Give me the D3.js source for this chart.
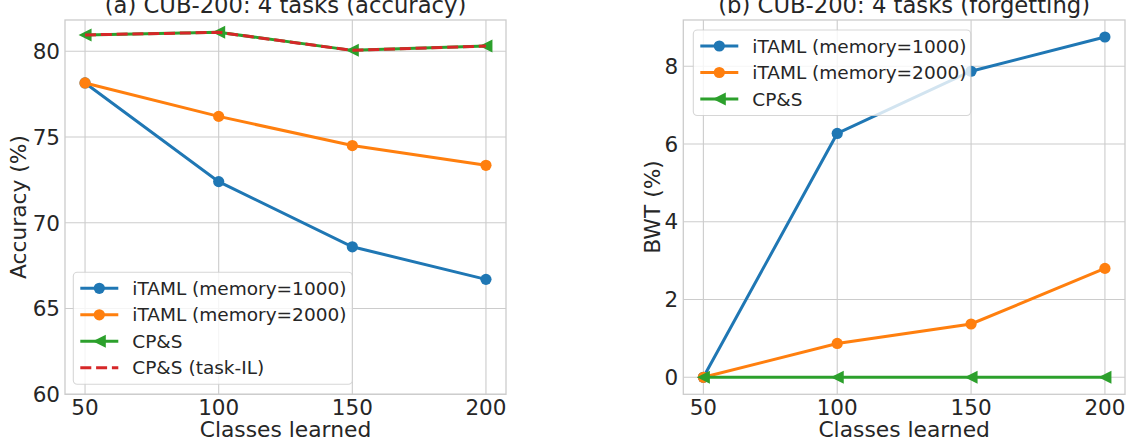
<!DOCTYPE html>
<html>
<head>
<meta charset="utf-8">
<script src="https://cdn.jsdelivr.net/npm/d3@7"></script>
<style>
  body { margin: 0; background: #fff; }
  text { font-family: "DejaVu Sans", sans-serif; fill: #262626; }
</style>
</head>
<body>
<script>
var classes = [50, 100, 150, 200];

// (a) accuracy
var accMem1000 = [78.15, 72.4, 68.6, 66.7];
var accMem2000 = [78.15, 76.2, 74.5, 73.35];
var accCPS = [80.95, 81.1, 80.05, 80.3];
var accCPSTask = [80.95, 81.1, 80.05, 80.3];
var accTicks = [60, 65, 70, 75, 80];

// (b) forgetting
var bwtMem1000 = [0, 6.27, 7.87, 8.75];
var bwtMem2000 = [0, 0.87, 1.37, 2.8];
var bwtCPS = [0, 0, 0, 0];
var bwtTicks = [0, 2, 4, 6, 8];

var xTicks = [50, 100, 150, 200];

var blue = "#1f77b4", orange = "#ff7f0e", green = "#2ca02c", red = "#d62728";
var gridCol = "#cccccc";

var width = 1133, height = 448;
var svg = d3.select("body").append("svg")
  .attr("width", width)
  .attr("height", height);

function margins(vals, lo) {
  var mn = d3.min(vals), mx = d3.max(vals);
  var pad = (mx - mn) * 0.05;
  return [lo !== undefined ? lo : mn - pad, mx + pad];
}

function drawPanel(opt) {
  var x = d3.scaleLinear().domain([42.5, 207.5]).range([opt.left, opt.right]);
  var y = d3.scaleLinear().domain(opt.yDomain).range([394.3, 20]);
  var g = svg.append("g");

  // grid
  g.selectAll("line.gx").data(xTicks).enter().append("line")
    .attr("x1", function(d){ return x(d); }).attr("x2", function(d){ return x(d); })
    .attr("y1", 20).attr("y2", 394.3)
    .attr("stroke", gridCol).attr("stroke-width", 1.1);
  g.selectAll("line.gy").data(opt.yTicks).enter().append("line")
    .attr("y1", function(d){ return y(d); }).attr("y2", function(d){ return y(d); })
    .attr("x1", opt.left).attr("x2", opt.right)
    .attr("stroke", gridCol).attr("stroke-width", 1.1);

  // spines
  g.append("rect")
    .attr("x", opt.left).attr("y", 20)
    .attr("width", opt.right - opt.left).attr("height", 374.3)
    .attr("fill", "none").attr("stroke", gridCol).attr("stroke-width", 1.3);

  // tick labels
  g.selectAll("text.tx").data(xTicks).enter().append("text")
    .attr("x", function(d){ return x(d); }).attr("y", 415)
    .attr("text-anchor", "middle").style("font-size", "21.5px")
    .text(function(d){ return d; });
  g.selectAll("text.ty").data(opt.yTicks).enter().append("text")
    .attr("x", opt.left - 5).attr("y", function(d){ return y(d); })
    .attr("dy", "0.36em")
    .attr("text-anchor", "end").style("font-size", "21.5px")
    .text(function(d){ return d; });

  // axis labels and title
  g.append("text")
    .attr("x", (opt.left + opt.right) / 2).attr("y", 437)
    .attr("text-anchor", "middle").style("font-size", "21.8px")
    .text("Classes learned");
  g.append("text")
    .attr("transform", "translate(" + opt.yLabelX + "," + 207 + ") rotate(-90)")
    .attr("text-anchor", "middle").attr("dy", "0.36em").style("font-size", "21.8px")
    .text(opt.yLabel);
  g.append("text")
    .attr("x", (opt.left + opt.right) / 2).attr("y", 13)
    .attr("text-anchor", "middle").style("font-size", "22.7px")
    .text(opt.title);

  // series
  var line = d3.line()
    .x(function(d, i){ return x(classes[i]); })
    .y(function(d){ return y(d); });

  opt.series.forEach(function(s) {
    g.append("path")
      .attr("d", line(s.values))
      .attr("fill", "none")
      .attr("stroke", s.color)
      .attr("stroke-width", 3)
      .attr("stroke-dasharray", s.dash ? "11,4.8" : null);
    if (s.marker === "o") {
      g.selectAll(null).data(s.values).enter().append("circle")
        .attr("cx", function(d, i){ return x(classes[i]); })
        .attr("cy", function(d){ return y(d); })
        .attr("r", 5.6).attr("fill", s.color);
    } else if (s.marker === "<") {
      g.selectAll(null).data(s.values).enter().append("path")
        .attr("d", function(d, i){
          var cx = x(classes[i]), cy = y(d), r = 6.5;
          return "M" + (cx - r) + "," + cy + "L" + (cx + r) + "," + (cy - r) + "L" + (cx + r) + "," + (cy + r) + "Z";
        })
        .attr("fill", s.color);
    }
  });

  // legend
  var lg = opt.legend;
  var leg = g.append("g");
  leg.append("rect")
    .attr("x", lg.x).attr("y", lg.y)
    .attr("width", lg.w).attr("height", 26.5 * opt.series.length + 6)
    .attr("rx", 4)
    .attr("fill", "#fff").attr("fill-opacity", 0.8)
    .attr("stroke", gridCol).attr("stroke-opacity", 0.8).attr("stroke-width", 1.1);
  opt.series.forEach(function(s, i) {
    var cy = lg.y + 16 + i * 26.5;
    leg.append("line")
      .attr("x1", lg.x + 7).attr("x2", lg.x + 45)
      .attr("y1", cy).attr("y2", cy)
      .attr("stroke", s.color).attr("stroke-width", 3)
      .attr("stroke-dasharray", s.dash ? "11,4.8" : null);
    var mx = lg.x + 26;
    if (s.marker === "o") {
      leg.append("circle").attr("cx", mx).attr("cy", cy).attr("r", 5.6).attr("fill", s.color);
    } else if (s.marker === "<") {
      leg.append("path")
        .attr("d", "M" + (mx - 6.5) + "," + cy + "L" + (mx + 6.5) + "," + (cy - 6.5) + "L" + (mx + 6.5) + "," + (cy + 6.5) + "Z")
        .attr("fill", s.color);
    }
    leg.append("text")
      .attr("x", lg.x + 59).attr("y", cy).attr("dy", "0.36em")
      .style("font-size", "18.5px")
      .text(s.name);
  });
}

drawPanel({
  left: 65, right: 506,
  yDomain: margins(accMem1000.concat(accMem2000, accCPS, accCPSTask), 60),
  yTicks: accTicks,
  yLabel: "Accuracy (%)", yLabelX: 18,
  title: "(a) CUB-200: 4 tasks (accuracy)",
  legend: { x: 73.3, y: 272.3, w: 279 },
  series: [
    { name: "iTAML (memory=1000)", values: accMem1000, color: blue, marker: "o" },
    { name: "iTAML (memory=2000)", values: accMem2000, color: orange, marker: "o" },
    { name: "CP&S", values: accCPS, color: green, marker: "<" },
    { name: "CP&S (task-IL)", values: accCPSTask, color: red, dash: true }
  ]
});

drawPanel({
  left: 683.3, right: 1125,
  yDomain: margins(bwtMem1000.concat(bwtMem2000, bwtCPS)),
  yTicks: bwtTicks,
  yLabel: "BWT (%)", yLabelX: 652.5,
  title: "(b) CUB-200: 4 tasks (forgetting)",
  legend: { x: 693.3, y: 30, w: 277.4 },
  series: [
    { name: "iTAML (memory=1000)", values: bwtMem1000, color: blue, marker: "o" },
    { name: "iTAML (memory=2000)", values: bwtMem2000, color: orange, marker: "o" },
    { name: "CP&S", values: bwtCPS, color: green, marker: "<" }
  ]
});
</script>
</body>
</html>
